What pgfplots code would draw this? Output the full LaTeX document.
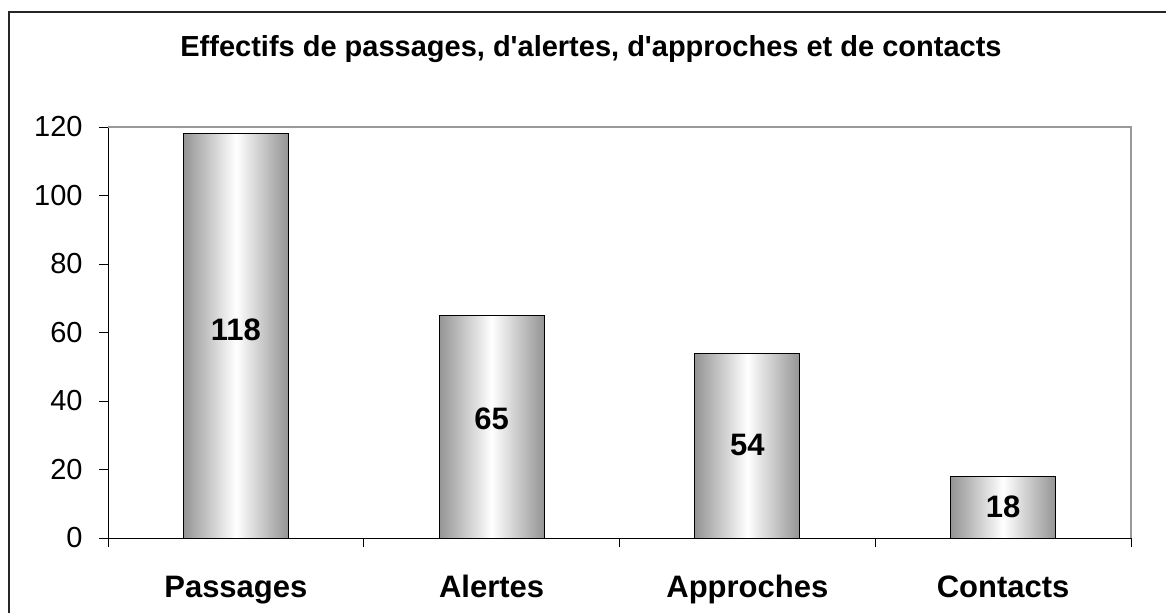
\documentclass[border=0pt]{standalone}
\usepackage{fontspec}
\setmainfont{Liberation Sans}
\usepackage{pgfplots}
\pgfplotsset{compat=1.18}
\begin{document}
\begin{tikzpicture}
\useasboundingbox (0,0) rectangle (583pt,306pt);
\draw[line width=1pt, black!85] (4.5pt,-20pt) -- (4.5pt,300pt) -- (620pt,300pt);
\node[anchor=base, inner sep=0pt, font=\fontsize{14.5}{17}\selectfont\bfseries] at (295.5pt,277.5pt) {Effectifs de passages, d\textquotesingle alertes, d\textquotesingle approches et de contacts};
\begin{axis}[
  at={(54pt,37pt)}, anchor=south west,
  scale only axis, width=511.5pt, height=205.5pt,
  xmin=-0.5, xmax=3.5, ymin=0, ymax=120,
  ytick={0,20,...,120},
  xtick={-0.5,0.5,1.5,2.5,3.5},
  xticklabels={,,,,,},
  extra x ticks={0,1,2,3},
  extra x tick labels={Passages,Alertes,Approches,Contacts},
  extra x tick style={major tick length=0pt,
    xticklabel style={font=\fontsize{15.5}{18}\selectfont\bfseries, anchor=base, inner sep=0pt, yshift=-29.5pt}},
  axis lines=left,
  axis line style={-, black, line width=0.5pt},
  tick align=outside,
  major tick length=4.5pt,
  tick style={black, line width=0.5pt},
  yticklabel style={font=\fontsize{14.5}{17}\selectfont, anchor=east, inner sep=0pt, xshift=-8pt},
  /pgf/number format/assume math mode=true,
  clip=false,
  barstyle/.style={ybar, bar width=52.5pt, bar shift=0pt, draw=black, line width=0.5pt,
    left color=black!42, right color=black!42, middle color=white},
]
\addplot[barstyle] coordinates {(0,118)};
\addplot[barstyle] coordinates {(1,65)};
\addplot[barstyle] coordinates {(2,54)};
\addplot[barstyle] coordinates {(3,18)};
\addplot[draw=none, mark=none, nodes near coords, point meta=explicit symbolic,
  nodes near coords align=center,
  every node near coord/.append style={font=\fontsize{15.5}{18}\selectfont\bfseries, text=black}]
  coordinates {(0,60.7)[118] (1,34.9)[65] (2,27.2)[54] (3,9.1)[18]};
\draw[black!40, line width=1pt] (rel axis cs:0,1) -- (rel axis cs:1,1) -- (rel axis cs:1,0);
\end{axis}
\end{tikzpicture}
\end{document}
